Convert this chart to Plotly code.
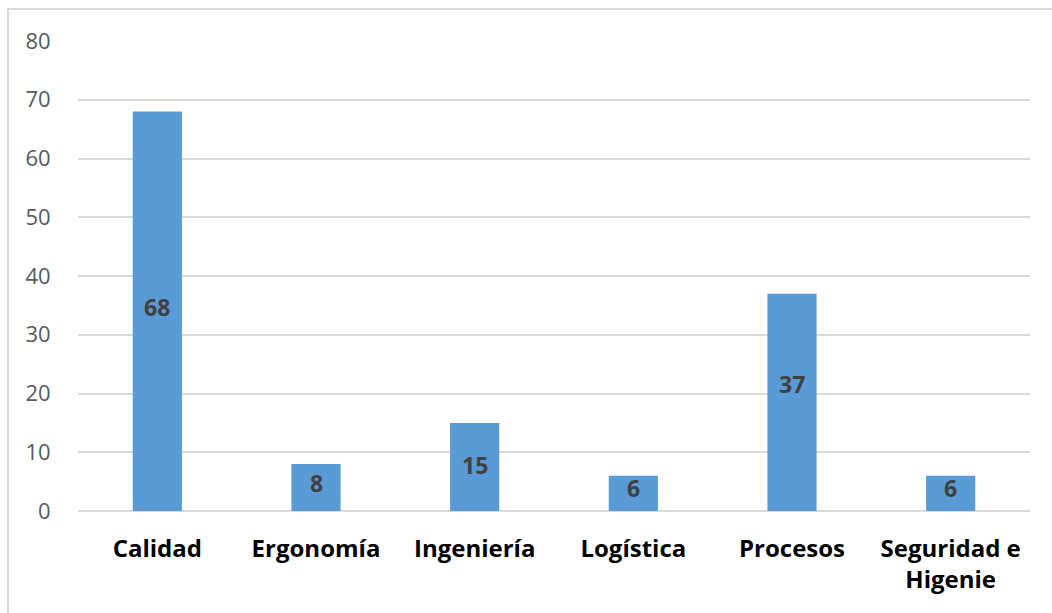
import plotly.graph_objects as go

categories = ["Calidad", "Ergonomía", "Ingeniería", "Logística", "Procesos", "Seguridad e<br>Higenie"]
values = [68, 8, 15, 6, 37, 6]
y_ticks = [0, 10, 20, 30, 40, 50, 60, 70, 80]

# vertical nudge (px) of each value label above the bar's midpoint
label_nudge = [4, 5, 2, 5, 18, 5]

FONT = "Open Sans"

fig = go.Figure(
    go.Bar(
        x=categories,
        y=values,
        marker=dict(color="#5B9BD5", line=dict(width=0)),
        hoverinfo="skip",
    )
)

# value labels centred inside each bar
for cat, val, dy in zip(categories, values, label_nudge):
    fig.add_annotation(
        x=cat,
        y=val / 2,
        text=f"<b>{val}</b>",
        showarrow=False,
        yshift=dy,
        font=dict(family=FONT, size=23, color="#404040"),
    )

fig.update_layout(
    width=1052,
    height=613,
    margin=dict(l=78, r=22, t=41, b=102),
    paper_bgcolor="white",
    plot_bgcolor="white",
    bargap=0.69,
    showlegend=False,
    xaxis=dict(
        showgrid=False,
        showline=False,
        zeroline=False,
        ticks="outside",
        ticklen=16,
        tickcolor="rgba(0,0,0,0)",
        tickfont=dict(family=FONT, size=24, color="#000000"),
        tickvals=categories,
        ticktext=["<b>" + c.replace("<br>", "</b><br><b>") + "</b>" for c in categories],
    ),
    yaxis=dict(
        range=[0, 80],
        tickvals=y_ticks,
        showgrid=True,
        gridcolor="#D9D9D9",
        gridwidth=1.5,
        zeroline=True,
        zerolinecolor="#D9D9D9",
        zerolinewidth=1.5,
        showline=False,
        ticks="outside",
        ticklen=22,
        tickcolor="rgba(0,0,0,0)",
        tickfont=dict(family=FONT, size=22, color="#595959"),
    ),
    shapes=[
        dict(
            type="rect",
            xref="paper",
            yref="paper",
            x0=-0.0735,
            x1=1.2,
            y0=-0.4,
            y1=1.068,
            line=dict(color="#D9D9D9", width=2),
            fillcolor="rgba(0,0,0,0)",
            layer="below",
        )
    ],
)

fig.write_html("out.html")
